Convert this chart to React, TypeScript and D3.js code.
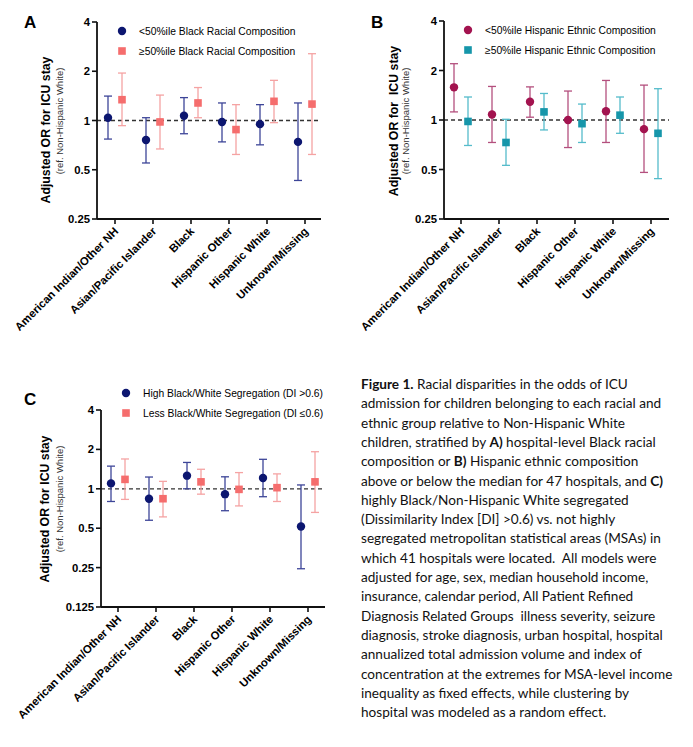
import React from 'react';
import * as d3 from 'd3';

const categories = ['American Indian/Other NH', 'Asian/Pacific Islander', 'Black', 'Hispanic Other', 'Hispanic White', 'Unknown/Missing'];

// Panel A: hospital-level Black racial composition
const aLowOR = [1.04, 0.76, 1.07, 0.98, 0.95, 0.74];
const aLowLo = [0.77, 0.55, 0.83, 0.74, 0.71, 0.43];
const aLowHi = [1.41, 1.04, 1.38, 1.28, 1.25, 1.28];
const aHighOR = [1.34, 0.98, 1.28, 0.88, 1.31, 1.26];
const aHighLo = [0.93, 0.67, 1.04, 0.62, 0.97, 0.62];
const aHighHi = [1.95, 1.43, 1.59, 1.25, 1.76, 2.56];

// Panel B: Hispanic ethnic composition
const bLowOR = [1.58, 1.08, 1.29, 1.0, 1.13, 0.88];
const bLowLo = [1.12, 0.73, 1.04, 0.68, 0.73, 0.48];
const bLowHi = [2.2, 1.6, 1.59, 1.5, 1.74, 1.63];
const bHighOR = [0.98, 0.73, 1.12, 0.95, 1.07, 0.83];
const bHighLo = [0.7, 0.53, 0.87, 0.73, 0.83, 0.44];
const bHighHi = [1.38, 1.01, 1.45, 1.25, 1.38, 1.55];

// Panel C: Black/White segregation
const cHighOR = [1.1, 0.84, 1.26, 0.91, 1.21, 0.515];
const cHighLo = [0.8, 0.575, 1.0, 0.68, 0.87, 0.245];
const cHighHi = [1.49, 1.23, 1.59, 1.235, 1.68, 1.07];
const cLessOR = [1.18, 0.84, 1.13, 0.99, 1.02, 1.13];
const cLessLo = [0.83, 0.61, 0.91, 0.74, 0.8, 0.66];
const cLessHi = [1.69, 1.14, 1.41, 1.33, 1.3, 1.92];

const abTicks = [0.25, 0.5, 1, 2, 4];
const cTicks = [0.125, 0.25, 0.5, 1, 2, 4];

const captionLines: [string, boolean][][] = [
  [['Figure 1.', true], [' Racial disparities in the odds of ICU', false]],
  [['admission for children belonging to each racial and', false]],
  [['ethnic group relative to Non-Hispanic White', false]],
  [['children, stratified by ', false], ['A)', true], [' hospital-level Black racial', false]],
  [['composition or ', false], ['B)', true], [' Hispanic ethnic composition', false]],
  [['above or below the median for 47 hospitals, and ', false], ['C)', true]],
  [['highly Black/Non-Hispanic White segregated', false]],
  [['(Dissimilarity Index [DI] >0.6) vs. not highly', false]],
  [['segregated metropolitan statistical areas (MSAs) in', false]],
  [['which 41 hospitals were located.  All models were', false]],
  [['adjusted for age, sex, median household income,', false]],
  [['insurance, calendar period, All Patient Refined', false]],
  [['Diagnosis Related Groups  illness severity, seizure', false]],
  [['diagnosis, stroke diagnosis, urban hospital, hospital', false]],
  [['annualized total admission volume and index of', false]],
  [['concentration at the extremes for MSA-level income', false]],
  [['inequality as fixed effects, while clustering by', false]],
  [['hospital was modeled as a random effect.', false]],
];

const font = '"Liberation Sans", Arial, Helvetica, sans-serif';

interface Series {
  name: string;
  or: number[];
  lo: number[];
  hi: number[];
  color: string;
  barColor: string;
  shape: 'circle' | 'square';
}

interface PanelProps {
  letter: string;
  letterX: number;
  letterY: number;
  axisX: number;
  yTop: number;
  yBottom: number;
  xFirst: number;
  xLast: number;
  xEnd: number;
  ticks: number[];
  series: Series[];
  legendX: number;
  legendY: number;
  title: string;
  titleX: number;
  titleY: number;
  subX: number;
  subY: number;
}

function Panel(p: PanelProps) {
  const y = d3.scaleLog().base(2).domain([p.ticks[0], p.ticks[p.ticks.length - 1]]).range([p.yBottom, p.yTop]);
  const x = d3.scalePoint<string>().domain(categories).range([p.xFirst, p.xLast]);
  const off = 7;
  const cap = 4;

  return (
    <g>
      <text x={p.letterX} y={p.letterY} fontFamily={font} fontWeight="bold" fontSize={17}>{p.letter}</text>

      {/* y title */}
      <text transform={`translate(${p.titleX},${p.titleY}) rotate(-90)`} textAnchor="middle" dy="0.35em"
        fontFamily={font} fontWeight="bold" fontSize={12.3} style={{ whiteSpace: 'pre' }}>{p.title}</text>
      <text transform={`translate(${p.subX},${p.subY}) rotate(-90)`} textAnchor="middle" dy="0.35em"
        fontFamily={font} fontSize={9.5} fill="#333">(ref. Non-Hispanic White)</text>

      {/* reference line */}
      <line x1={p.axisX} x2={p.xEnd} y1={y(1)} y2={y(1)} stroke="#333" strokeWidth={1.3} strokeDasharray="4,3" />

      {/* axes */}
      <line x1={p.axisX} x2={p.axisX} y1={p.yTop} y2={p.yBottom} stroke="#111" strokeWidth={1.8} />
      <line x1={p.axisX} x2={p.xEnd} y1={p.yBottom} y2={p.yBottom} stroke="#111" strokeWidth={1.8} />
      {p.ticks.map(t => (
        <g key={t}>
          <line x1={p.axisX - 5} x2={p.axisX} y1={y(t)} y2={y(t)} stroke="#111" strokeWidth={1.6} />
          <text x={p.axisX - 7} y={y(t)} dy="0.36em" textAnchor="end" fontFamily={font} fontWeight="bold" fontSize={11.3}>{String(t)}</text>
        </g>
      ))}
      {categories.map(c => (
        <g key={c}>
          <line x1={x(c)} x2={x(c)} y1={p.yBottom} y2={p.yBottom + 5} stroke="#111" strokeWidth={1.6} />
          <text transform={`translate(${(x(c) as number) + 4},${p.yBottom + 13}) rotate(-45)`} textAnchor="end"
            fontFamily={font} fontWeight="bold" fontSize={11.3}>{c}</text>
        </g>
      ))}

      {/* error bars and markers */}
      {p.series.map((s, si) => {
        const dx = si === 0 ? -off : off;
        return (
          <g key={s.name}>
            {categories.map((c, i) => {
              const cx = (x(c) as number) + dx;
              return (
                <g key={c}>
                  <line x1={cx} x2={cx} y1={y(s.lo[i])} y2={y(s.hi[i])} stroke={s.barColor} strokeWidth={1.3} />
                  <line x1={cx - cap} x2={cx + cap} y1={y(s.lo[i])} y2={y(s.lo[i])} stroke={s.barColor} strokeWidth={1.3} />
                  <line x1={cx - cap} x2={cx + cap} y1={y(s.hi[i])} y2={y(s.hi[i])} stroke={s.barColor} strokeWidth={1.3} />
                  {s.shape === 'circle'
                    ? <circle cx={cx} cy={y(s.or[i])} r={4.2} fill={s.color} />
                    : <rect x={cx - 3.8} y={y(s.or[i]) - 3.8} width={7.6} height={7.6} fill={s.color} />}
                </g>
              );
            })}
          </g>
        );
      })}

      {/* legend */}
      {p.series.map((s, si) => {
        const ly = p.legendY + si * 20;
        return (
          <g key={s.name}>
            {s.shape === 'circle'
              ? <circle cx={p.legendX} cy={ly} r={4.2} fill={s.color} />
              : <rect x={p.legendX - 3.8} y={ly - 3.8} width={7.6} height={7.6} fill={s.color} />}
            <text x={p.legendX + 17} y={ly} dy="0.36em" fontFamily={font} fontSize={10.3}>{s.name}</text>
          </g>
        );
      })}
    </g>
  );
}

export default function App() {
  const navy = '#0c1670', navyBar = '#3d4598';
  const pink = '#f56d6d', pinkBar = '#f5a3a3';
  const magenta = '#a3134f', magentaBar = '#b4507e';
  const teal = '#1696aa', tealBar = '#55bccb';

  return (
    <svg width={693} height={747} style={{ position: 'absolute', left: 0, top: 0, background: '#fff' }}>
      <rect width={693} height={747} fill="#fff" />
      <Panel letter="A" letterX={24} letterY={28} axisX={97} yTop={22} yBottom={219} xFirst={115} xLast={305} xEnd={321}
        ticks={abTicks} legendX={122} legendY={31}
        title="Adjusted OR for ICU stay" titleX={46} titleY={130} subX={60} subY={121}
        series={[
          { name: '<50%ile Black Racial Composition', or: aLowOR, lo: aLowLo, hi: aLowHi, color: navy, barColor: navyBar, shape: 'circle' },
          { name: '≥50%ile Black Racial Composition', or: aHighOR, lo: aHighLo, hi: aHighHi, color: pink, barColor: pinkBar, shape: 'square' },
        ]} />
      <Panel letter="B" letterX={371} letterY={28} axisX={444} yTop={21} yBottom={219} xFirst={461} xLast={651} xEnd={669}
        ticks={abTicks} legendX={468} legendY={30}
        title="Adjusted OR for  ICU stay" titleX={394} titleY={121} subX={406} subY={121}
        series={[
          { name: '<50%ile Hispanic Ethnic Composition', or: bLowOR, lo: bLowLo, hi: bLowHi, color: magenta, barColor: magentaBar, shape: 'circle' },
          { name: '≥50%ile Hispanic Ethnic Composition', or: bHighOR, lo: bHighLo, hi: bHighHi, color: teal, barColor: tealBar, shape: 'square' },
        ]} />
      <Panel letter="C" letterX={24} letterY={405} axisX={101} yTop={410} yBottom={607} xFirst={118} xLast={308} xEnd={325}
        ticks={cTicks} legendX={126} legendY={393}
        title="Adjusted OR for ICU stay" titleX={45} titleY={509} subX={60} subY={499}
        series={[
          { name: 'High Black/White Segregation (DI >0.6)', or: cHighOR, lo: cHighLo, hi: cHighHi, color: navy, barColor: navyBar, shape: 'circle' },
          { name: 'Less Black/White Segregation (DI ≤0.6)', or: cLessOR, lo: cLessLo, hi: cLessHi, color: pink, barColor: pinkBar, shape: 'square' },
        ]} />

      {/* caption */}
      <g fontFamily='Lato, "Open Sans", sans-serif' fontSize={13.6} fill="#111">
        {captionLines.map((line, i) => (
          <text key={i} x={361} y={389 + i * 19.3} style={{ whiteSpace: 'pre' }}>
            {line.map(([t, b], j) => <tspan key={j} fontWeight={b ? 'bold' : 'normal'}>{t}</tspan>)}
          </text>
        ))}
      </g>
    </svg>
  );
}
